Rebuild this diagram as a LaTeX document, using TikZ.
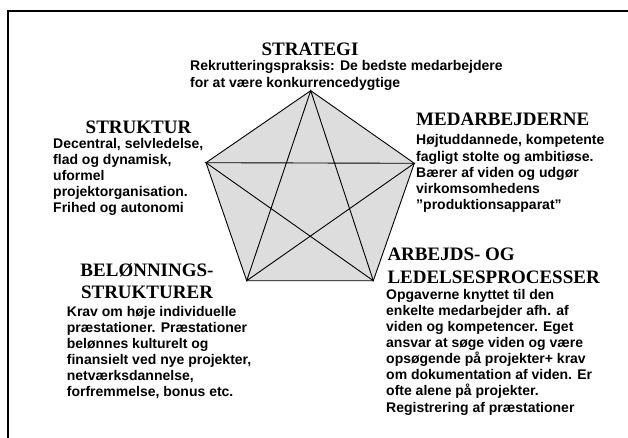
\documentclass[tikz,border=0pt]{standalone}
\usepackage{fontspec}
\setmainfont{Liberation Serif}
\setsansfont{Liberation Sans}
\tikzset{
  ttl/.style={font={\rmfamily\bfseries\fontsize{19}{21.5}\selectfont}, inner sep=0pt, align=center},
  ttlL/.style={font={\rmfamily\bfseries\fontsize{19}{22.6}\selectfont}, inner sep=0pt, align=left},
  body/.style={font={\sffamily\bfseries\fontsize{14}{16.1}\selectfont}, inner sep=0pt, align=left},
  edge/.style={line width=0.9pt, black},
}
\begin{document}
\begin{tikzpicture}[x=1pt,y=-1pt]
\useasboundingbox (0,0) rectangle (628,438);
% frame
\draw[line width=1.6pt] (8,438) -- (8,11) -- (628,11);
% pentagon vertices
\coordinate (A) at (310.7,90.7);
\coordinate (B) at (414.3,163.3);
\coordinate (C) at (373.3,280.7);
\coordinate (D) at (246.7,280.7);
\coordinate (E) at (206,162.7);
\fill[gray!27] (A) -- (B) -- (C) -- (D) -- (E) -- cycle;
\draw[edge, line join=miter] (A) -- (B) -- (C) -- (D) -- (E) -- cycle;
\draw[edge] (A) -- (C) -- (E) -- (B) -- (D) -- cycle;
% texts (anchor base = baseline of the last line)
\node[ttl, anchor=base] (strategi) at (310,56) {STRATEGI};
\node[body, anchor=base west] (strategiT) at (190,87.1) {Rekrutteringspraksis: De bedste medarbejdere\\for at være konkurrencedygtige};
\node[ttl, anchor=base, text depth=0pt] (struktur) at (138.5,134) {STRUKTUR};
\node[body, anchor=base west] (strukturT) at (53,212.9) {Decentral, selvledelse,\\flad og dynamisk,\\uformel\\projektorganisation.\\Frihed og autonomi};
\node[ttlL, anchor=base west] (medarb) at (416,126) {MEDARBEJDERNE};
\node[body, anchor=base west] (medarbT) at (416,209.4) {Højtuddannede, kompetente\\fagligt stolte og ambitiøse.\\Bærer af viden og udgør\\virkomsomhedens\\”produktionsapparat”};
\node[ttl, anchor=base] (beloen) at (147,298.3) {BELØNNINGS-\\STRUKTURER};
\node[body, anchor=base west] (beloenT) at (66.7,396.5) {Krav om høje individuelle\\præstationer. Præstationer\\belønnes kulturelt og\\finansielt ved nye projekter,\\netværksdannelse,\\forfremmelse, bonus etc.};
\node[ttlL, anchor=base west] (arbejd) at (387.3,283.3) {ARBEJDS- OG\\LEDELSESPROCESSER};
\node[body, anchor=base west] (arbejdT) at (386,412) {Opgaverne knyttet til den\\enkelte medarbejder afh. af\\viden og kompetencer. Eget\\ansvar at søge viden og være\\opsøgende på projekter+ krav\\om dokumentation af viden. Er\\ofte alene på projekter.\\Registrering af præstationer};
\end{tikzpicture}
\end{document}
